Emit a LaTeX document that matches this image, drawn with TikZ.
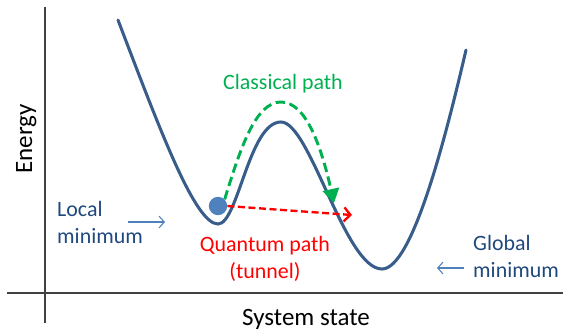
\documentclass[tikz,border=0pt]{standalone}
\usepackage{fontspec}
\setmainfont{Carlito}
\usetikzlibrary{arrows.meta}
\definecolor{curveblue}{HTML}{385D8A}
\definecolor{ballblue}{HTML}{4F81BD}
\definecolor{textblue}{HTML}{1F497D}
\definecolor{classgreen}{HTML}{00B050}
\definecolor{axisgray}{HTML}{404040}

\begin{document}
\begin{tikzpicture}[
  x=0.03cm, y=-0.03cm,
  txt/.style={font=\fontsize{18.7}{23}\selectfont, inner sep=0pt, align=left},
  axislabel/.style={font=\fontsize{21.3}{25}\selectfont, inner sep=0pt},
  axis/.style={draw=axisgray, line width=1pt},
  pointer/.style={draw=ballblue, line width=0.9pt, -{Straight Barb[length=4.5pt, width=10pt]}},
  ball/.style={circle, fill=ballblue, inner sep=0pt, minimum size=5.5mm}
]
  \useasboundingbox (0,0) rectangle (563,330);

  % Ejes
  \draw[axis] (45,7) -- (45,323);
  \draw[axis] (7,293) -- (563,293);
  \node[axislabel, rotate=90, anchor=base] (energy) at (32,139) {Energy};
  \node[axislabel, anchor=base] (state) at (306,325) {System state};

  % Paisaje de energia
  \draw[curveblue, line width=2.6pt, line cap=round]
    (118,20) .. controls (160,130) and (195,224) .. (218,224)
    .. controls (238,224) and (249,122) .. (281,122)
    .. controls (310,122) and (345,269) .. (382,269)
    .. controls (412,269) and (445,140) .. (466,50);

  % Particula
  \node[ball] (p) at (218,206) {};
  \coordinate (cend) at (334,203);
  \coordinate (qend) at (352,215);

  % Caminos
  \draw[classgreen, line width=2.5pt, dash pattern=on 8pt off 4pt,
        -{Triangle[length=12pt, width=14pt]}]
    (p.north east) .. controls (240,150) and (255,102) .. (281,102)
    .. controls (307,102) and (322,150) .. (cend);
  \draw[red, line width=2pt, dash pattern=on 6pt off 3pt,
        -{Straight Barb[length=5.5pt, width=12pt, line width=2pt]}]
    (p.east) -- (qend);

  % Etiquetas
  \node[txt, text=classgreen, anchor=base] (classical) at (283,89) {Classical path};
  \node[txt, text=red, align=center, anchor=base] (quantum) at (265,278) {Quantum path\\(tunnel)};
  \node[txt, text=textblue, anchor=base west] (local) at (57,243) {Local\\minimum};
  \node[txt, text=textblue, anchor=base west] (global) at (473,277) {Global\\minimum};

  % Flechas de indicacion
  \coordinate (lp) at (165,222);
  \coordinate (gp) at (437,268);
  \draw[pointer] (128,222) -- (lp);
  \draw[pointer] (464,268) -- (gp);
\end{tikzpicture}
\end{document}
